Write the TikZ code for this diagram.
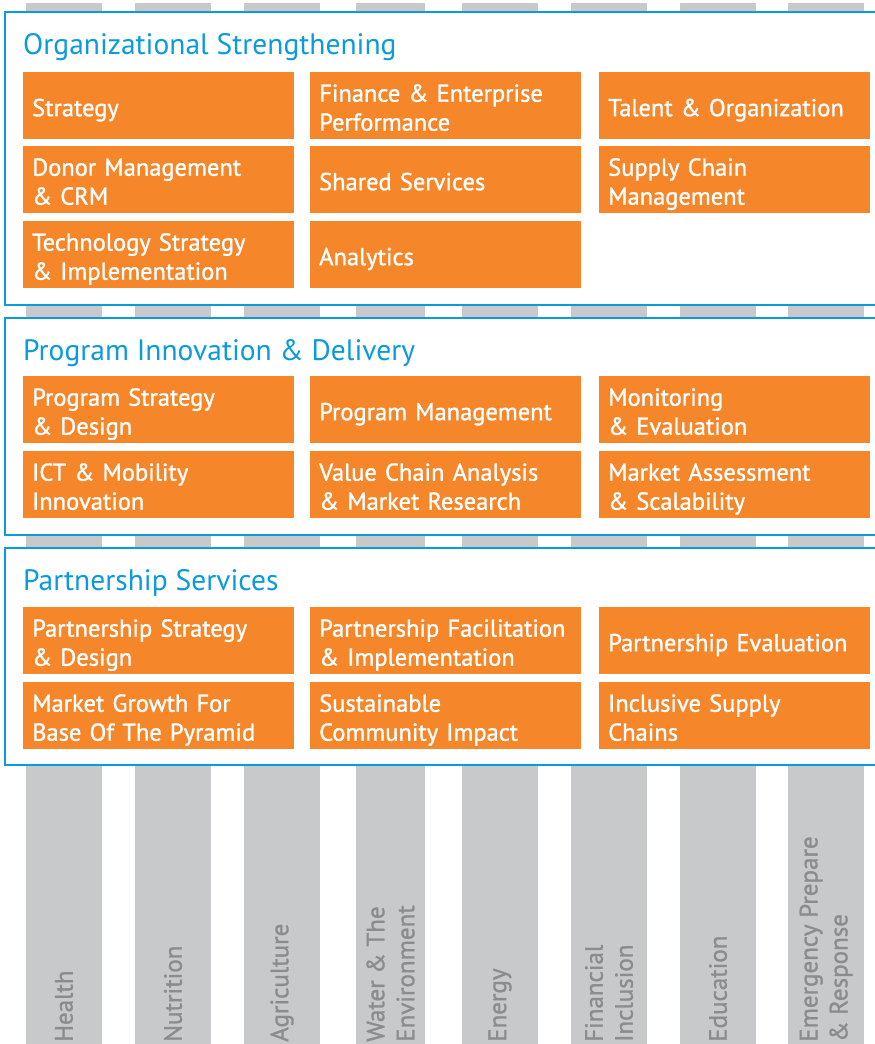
\documentclass[tikz,border=0pt]{standalone}
\usepackage{fontspec}
\setmainfont{PT Sans}
\newfontfamily\boxfont{PT Sans}[FakeBold=1.2]
\usepackage{tikz}
\usetikzlibrary{positioning}
\definecolor{caorange}{HTML}{F58629}
\definecolor{cablue}{HTML}{0A9BDC}
\definecolor{cagrey}{HTML}{C8C9CB}
\definecolor{cagreytext}{HTML}{8B8C8E}
\tikzset{
  panel/.style={draw=cablue, line width=2.2pt, fill=white},
  pillar/.style={fill=cagrey},
  cell/.style={fill=caorange, text=white, anchor=north west, minimum height=67pt,
    text width=253pt, inner xsep=9pt, inner ysep=0pt, align=left,
    font=\boxfont\fontsize{24.5}{29}\selectfont,
    execute at begin node={\rule{0pt}{28pt}},
    execute at end node={\rule[-7pt]{0pt}{0pt}}},
  heading/.style={text=cablue, anchor=base west, inner sep=0pt,
    font=\fontsize{29.5}{34}\selectfont},
  sector/.style={text=cagreytext, rotate=90, anchor=west, align=left, inner sep=0pt,
    font=\boxfont\fontsize{25}{30}\selectfont}
}

\begin{document}
\begin{tikzpicture}[x=1pt,y=-1pt]
\useasboundingbox (0,0) rectangle (875,1044);
\clip (0,0) rectangle (875,1044);

\foreach \xa/\xb/\name/\txt in {26/102/health/Health, 135/211/nutrition/Nutrition,
    244/320/agriculture/Agriculture, 356/425/water/{Water \& The\\Environment},
    462/538/energy/Energy, 571/647/finance/{Financial\\Inclusion},
    680/756/education/Education, 788/864/emergency/{Emergency Prepare\\\& Response}}{
  \fill[pillar] (\xa,3) rectangle (\xb,1044);
  \node[sector] (\name) at ({(\xa+\xb)/2},1042) {\txt};
}

\draw[panel] (5,12) rectangle (885,305);
\draw[panel] (5,318) rectangle (885,535);
\draw[panel] (5,548) rectangle (885,765);

\node[heading] (orgtitle) at (23,54) {Organizational Strengthening};
\node[heading] (progtitle) at (23,360) {Program Innovation \& Delivery};
\node[heading] (parttitle) at (23,590) {Partnership Services};

\node[cell] (strategy) at (23,72) {Strategy};
\node[cell] (financeperf) at (310,72) {Finance \& Enterprise\\Performance};
\node[cell] (talent) at (599,72) {Talent \& Organization};
\node[cell] (donor) at (23,146) {Donor Management\\\& CRM};
\node[cell] (shared) at (310,146) {Shared Services};
\node[cell] (supply) at (599,146) {Supply Chain\\Management};
\node[cell] (techstrat) at (23,221) {Technology Strategy\\\& Implementation};
\node[cell] (analytics) at (310,221) {Analytics};

\node[cell] (progstrat) at (23,376) {Program Strategy\\\& Design};
\node[cell] (progmgmt) at (310,376) {Program Management};
\node[cell] (monitor) at (599,376) {Monitoring\\\& Evaluation};
\node[cell] (ict) at (23,451) {ICT \& Mobility\\Innovation};
\node[cell] (valuechain) at (310,451) {Value Chain Analysis\\\& Market Research};
\node[cell] (market) at (599,451) {Market Assessment\\\& Scalability};

\node[cell] (partstrat) at (23,607) {Partnership Strategy\\\& Design};
\node[cell] (partfac) at (310,607) {Partnership Facilitation\\\& Implementation};
\node[cell] (parteval) at (599,607) {Partnership Evaluation};
\node[cell] (growth) at (23,682) {Market Growth For\\Base Of The Pyramid};
\node[cell] (community) at (310,682) {Sustainable\\Community Impact};
\node[cell] (inclusive) at (599,682) {Inclusive Supply\\Chains};
\end{tikzpicture}
\end{document}
